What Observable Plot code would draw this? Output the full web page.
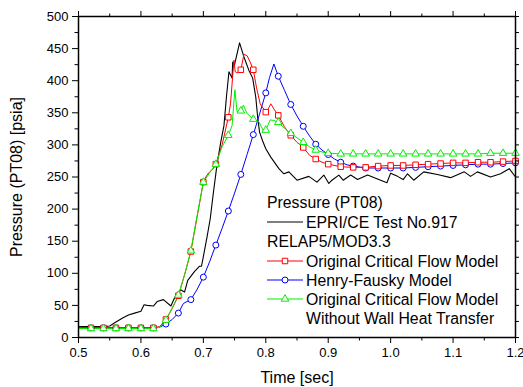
<!DOCTYPE html>
<html>
<head>
<meta charset="utf-8">
<script src="https://cdn.jsdelivr.net/npm/d3@7"></script>
<script src="https://cdn.jsdelivr.net/npm/@observablehq/plot@0.6"></script>
<style>
  html, body { margin: 0; padding: 0; background: #fff; }
  #chart { position: relative; width: 523px; height: 387px; }
  svg { font-family: "Liberation Sans", Arial, sans-serif; }
</style>
</head>
<body>
<div id="chart"></div>
<script>
// ---- Data ----
const epriT = [0.50,0.51,0.52,0.53,0.54,0.55,0.56,0.57,0.58,0.59,0.60,0.605,0.61,0.62,0.626,0.636,0.648,0.653,0.658,0.664,0.67,0.675,0.686,0.694,0.697,0.70,0.706,0.711,0.716,0.722,0.728,0.733,0.737,0.741,0.746,0.747,0.750,0.758,0.765,0.773,0.779,0.784,0.787,0.790,0.795,0.80,0.808,0.821,0.829,0.837,0.85,0.869,0.882,0.893,0.901,0.906,0.917,0.924,0.936,0.947,0.963,0.976,0.994,1.0,1.011,1.020,1.027,1.037,1.053,1.075,1.096,1.118,1.128,1.139,1.160,1.176,1.190,1.2];
const epriP = [17,17,17,17,17,18,24,30,35,38,41,51,50,49,56,59,49,60,69,74,71,89,103,111,111,126,157,185,225,270,305,330,375,414,404,429,425,459,437,416,404,374,343,320,306,294,281,263,255,258,245,251,242,253,240,245,253,245,253,246,253,248,241,256,251,246,255,245,258,254,249,258,251,258,250,255,263,250];

const origT = [0.50,0.52,0.54,0.56,0.58,0.60,0.62,0.63,0.64,0.65,0.66,0.67,0.68,0.69,0.70,0.705,0.71,0.715,0.72,0.73,0.74,0.7435,0.749,0.751,0.755,0.76,0.765,0.77,0.775,0.78,0.785,0.791,0.80,0.804,0.808,0.813,0.82,0.83,0.84,0.85,0.86,0.87,0.88,0.89,0.90,0.92,0.94,0.96,0.98,1.00,1.02,1.04,1.06,1.08,1.10,1.12,1.14,1.16,1.18,1.20];
const origP = [16,15,15,15,15,15,15,17,28,45,65,98,134,188,242,252,258,262,270,300,343,364,432,414,412,417,441,439,429,417,390,364,351,356,364,356,346,328,315,304,296,284,278,273,270,266,265,265,267,268,268,269,270,271,272,272,273,273,274,275];

const hfT = [0.50,0.52,0.54,0.56,0.58,0.60,0.62,0.63,0.64,0.65,0.66,0.668,0.68,0.69,0.70,0.71,0.72,0.73,0.74,0.75,0.76,0.77,0.78,0.79,0.80,0.806,0.813,0.82,0.83,0.84,0.85,0.86,0.87,0.88,0.89,0.90,0.91,0.92,0.93,0.94,0.96,0.98,1.00,1.02,1.04,1.06,1.08,1.10,1.12,1.14,1.16,1.18,1.20];
const hfP = [15,15,15,15,15,15,15,16,21,28,38,53,59,75,94,118,144,170,197,225,254,285,316,348,381,405,426,407,385,363,345,329,314,301,292,285,278,273,269,267,264,264,264,264,265,266,267,268,269,270,270,271,272];

const nwhtT = [0.50,0.52,0.54,0.56,0.58,0.60,0.62,0.63,0.64,0.65,0.66,0.67,0.68,0.69,0.70,0.709,0.72,0.73,0.74,0.746,0.7505,0.754,0.76,0.764,0.77,0.78,0.789,0.796,0.80,0.807,0.813,0.82,0.83,0.84,0.85,0.86,0.87,0.88,0.89,0.90,0.92,0.94,0.96,0.98,1.00,1.02,1.04,1.06,1.08,1.10,1.12,1.14,1.16,1.18,1.20];
const nwhtP = [14,14,14,14,14,14,14,16,27,46,66,98,135,190,242,255,270,297,315,330,386,352,353,362,349,340,336,322,323,339,338,335,326,318,311,304,297,292,289,287,286,286,286,286,286,286,286,286,286,286,286,286,287,287,287];

const xTicks = [0.5,0.6,0.7,0.8,0.9,1.0,1.1,1.2];
const xMinor = [0.55,0.65,0.75,0.85,0.95,1.05,1.15];
const yTicks = [0,50,100,150,200,250,300,350,400,450,500];
const yMinor = [25,75,125,175,225,275,325,375,425,475];

const legendTitle = "Pressure (PT08)";
const legendGroup = "RELAP5/MOD3.3";
const seriesNames = ["EPRI/CE Test No.917","Original Critical Flow Model","Henry-Fausky Model","Original Critical Flow Model","Without Wall Heat Transfer"];

// ---- Build tables ----
const toRows = (T, P) => T.map((t, i) => ({t, p: P[i]}));
const epri = toRows(epriT, epriP);
const orig = toRows(origT, origP);
const hf = toRows(hfT, hfP);
const nwht = toRows(nwhtT, nwhtP);
const markerRows = rows => rows.filter(d => d.t >= 0.519 && Math.abs(d.t * 50 - Math.round(d.t * 50)) < 1e-6);

const RED = "#ff0000", BLUE = "#0000ff", GREEN = "#00f000";

const plot = Plot.plot({
  width: 523,
  height: 387,
  marginLeft: 78,
  marginRight: 8,
  marginTop: 16,
  marginBottom: 50,
  style: {fontFamily: '"Liberation Sans", Arial, sans-serif', fontSize: "13px", color: "#000", background: "#fff", overflow: "visible"},
  x: {domain: [0.5, 1.2]},
  y: {domain: [0, 500]},
  marks: [
    Plot.line(epri, {x: "t", y: "p", stroke: "#000", strokeWidth: 1.1}),
    Plot.line(hf, {x: "t", y: "p", stroke: BLUE, strokeWidth: 1}),
    Plot.line(orig, {x: "t", y: "p", stroke: RED, strokeWidth: 1}),
    Plot.line(nwht, {x: "t", y: "p", stroke: GREEN, strokeWidth: 1}),
    Plot.dot(markerRows(hf), {x: "t", y: "p", symbol: "circle", r: 3, stroke: BLUE, fill: "#fff", strokeWidth: 1}),
    Plot.dot(markerRows(orig), {x: "t", y: "p", symbol: "square", r: 3.1, stroke: RED, fill: "#fff", strokeWidth: 1}),
    Plot.dot(markerRows(nwht), {x: "t", y: "p", symbol: "triangle", r: 2.8, stroke: GREEN, fill: "#fff", strokeWidth: 1}),
    Plot.frame({stroke: "#000", strokeWidth: 1.5}),
    Plot.axisX({anchor: "bottom", ticks: xTicks, tickSize: 6, tickPadding: 4, tickFormat: d3.format(".1f"), label: null, fontSize: 13}),
    Plot.axisX({anchor: "bottom", ticks: xMinor, tickSize: 3.5, text: null, label: null}),
    Plot.axisX({anchor: "top", ticks: xTicks, tickSize: 6, text: null, label: null}),
    Plot.axisX({anchor: "top", ticks: xMinor, tickSize: 3.5, text: null, label: null}),
    Plot.axisY({anchor: "left", ticks: yTicks, tickSize: 6, tickPadding: 4, label: null, fontSize: 13}),
    Plot.axisY({anchor: "left", ticks: yMinor, tickSize: 3.5, text: null, label: null}),
    Plot.axisY({anchor: "right", ticks: yTicks, tickSize: 3, text: null, label: null}),
    Plot.axisY({anchor: "right", ticks: yMinor, tickSize: 3, text: null, label: null})
  ]
});
document.getElementById("chart").appendChild(plot);

// ---- Axis labels and legend ----
const svg = d3.select(plot);
svg.append("text").attr("transform", "translate(16,177) rotate(-90)")
  .attr("text-anchor", "middle").attr("dominant-baseline", "central")
  .attr("font-size", 16).attr("fill", "#000").text("Pressure (PT08) [psia]");
svg.append("text").attr("x", 297).attr("y", 377)
  .attr("text-anchor", "middle").attr("dominant-baseline", "central")
  .attr("font-size", 16).attr("fill", "#000").text("Time [sec]");

const lg = svg.append("g").attr("font-size", 15.8).attr("fill", "#000").attr("text-anchor", "start");
const lx0 = 267, lx1 = 303, ltx = 306;
const txt = (x, y, s) => lg.append("text").attr("x", x).attr("y", y).attr("text-anchor", "start").attr("dominant-baseline", "central").text(s);
txt(lx0, 202, legendTitle);
lg.append("line").attr("x1", lx0).attr("x2", lx1).attr("y1", 222).attr("y2", 222).attr("stroke", "#000").attr("stroke-width", 1.1);
txt(ltx, 222, seriesNames[0]);
txt(lx0, 241.5, legendGroup);
const items = [
  {y: 261, c: RED, sym: d3.symbolSquare, size: Math.PI * 3.1 * 3.1, name: seriesNames[1]},
  {y: 280, c: BLUE, sym: d3.symbolCircle, size: Math.PI * 9, name: seriesNames[2]},
  {y: 299, c: GREEN, sym: d3.symbolTriangle, size: Math.PI * 2.8 * 2.8, name: seriesNames[3]}
];
items.forEach(it => {
  lg.append("line").attr("x1", lx0).attr("x2", lx1).attr("y1", it.y).attr("y2", it.y).attr("stroke", it.c).attr("stroke-width", 1);
  lg.append("path").attr("d", d3.symbol(it.sym, it.size)()).attr("transform", `translate(${(lx0 + lx1) / 2},${it.y})`)
    .attr("fill", "#fff").attr("stroke", it.c).attr("stroke-width", 1);
  txt(ltx, it.y, it.name);
});
txt(ltx, 318, seriesNames[4]);
</script>
</body>
</html>
